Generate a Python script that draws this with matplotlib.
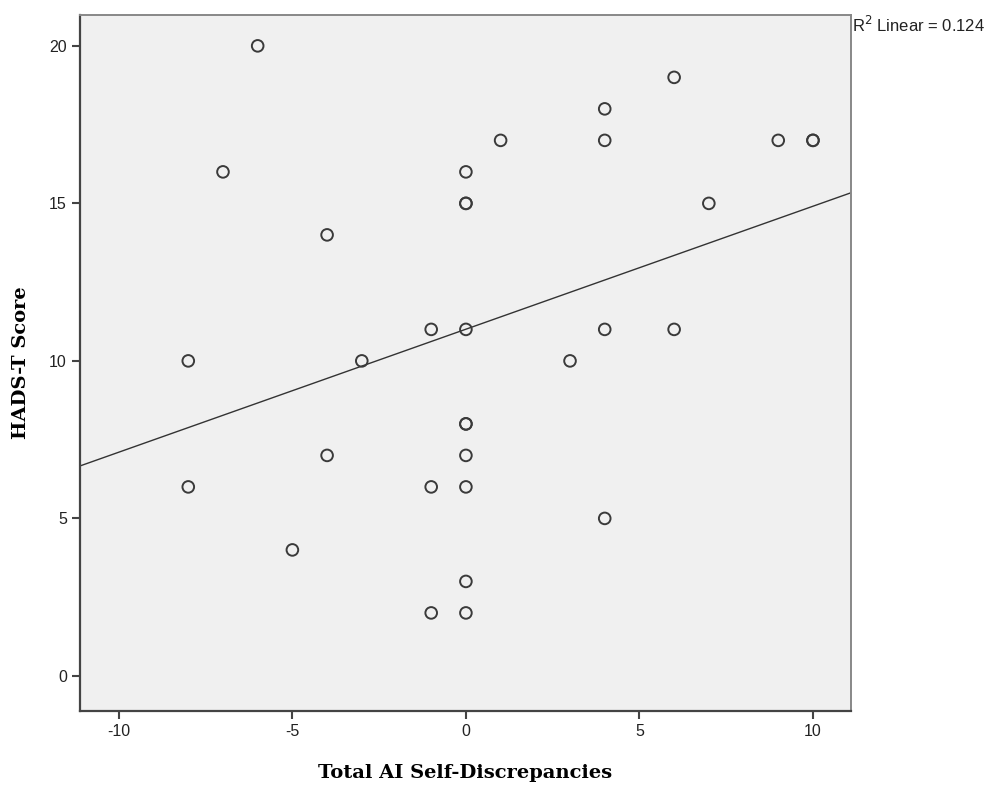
import matplotlib
matplotlib.use("Agg")
import matplotlib.pyplot as plt
import numpy as np

plt.rcParams["axes.unicode_minus"] = False

# Total AI Self-Discrepancies vs HADS-T Score
ai_disc = [-6, -7, -4, -8, -3, -1, 0, 0, 0, 0, 1, 4, 4, 6, 9, 10, 10, 7, 4, 6, 3,
           0, 0, 0, 0, -1, -4, -8, -5, 4, 0, 0, -1]
hads_t = [20, 16, 14, 10, 10, 11, 11, 16, 15, 15, 17, 18, 17, 19, 17, 17, 17, 15, 11, 11, 10,
          8, 8, 7, 6, 6, 7, 6, 4, 5, 3, 2, 2]
x_ticks = [-10, -5, 0, 5, 10]
y_ticks = [0, 5, 10, 15, 20]
r2_text = "R$^2$ Linear = 0.124"

x = np.array(ai_disc, dtype=float)
y = np.array(hads_t, dtype=float)
slope, intercept = np.polyfit(x, y, 1)

fig = plt.figure(figsize=(9.95, 7.89), dpi=100)
ax = fig.add_axes([0.0804, 0.099, 0.775, 0.882])
ax.set_facecolor("#f0f0f0")

xlim = (-11.12, 11.1)
ax.set_xlim(*xlim)
ax.set_ylim(-1.11, 20.98)

xs = np.array(xlim)
ax.plot(xs, intercept + slope * xs, color="#333333", lw=1.0, zorder=2)
ax.scatter(x, y, s=70, facecolors="none", edgecolors="#3a3a3a", linewidths=1.4, zorder=3)

ax.set_xticks(x_ticks)
ax.set_yticks(y_ticks)
ax.tick_params(direction="out", length=6, width=1.5, color="#444444",
               labelsize=11.5, labelcolor="#222222")
for lab in ax.get_xticklabels() + ax.get_yticklabels():
    lab.set_family("Liberation Sans")

for side in ["left", "bottom"]:
    ax.spines[side].set_color("#444444")
    ax.spines[side].set_linewidth(1.6)
for side in ["top", "right"]:
    ax.spines[side].set_color("#888888")
    ax.spines[side].set_linewidth(1.4)

ax.set_xlabel("Total AI Self-Discrepancies", family="DejaVu Serif", fontweight="bold",
              fontsize=14, labelpad=18)
ax.set_ylabel("HADS-T Score", family="DejaVu Serif", fontweight="bold",
              fontsize=14, labelpad=14)

fig.text(0.856, 0.968, r2_text, family="Liberation Sans", fontsize=12, color="#222222",
         ha="left", va="center")

fig.savefig("out.png", dpi=100)
